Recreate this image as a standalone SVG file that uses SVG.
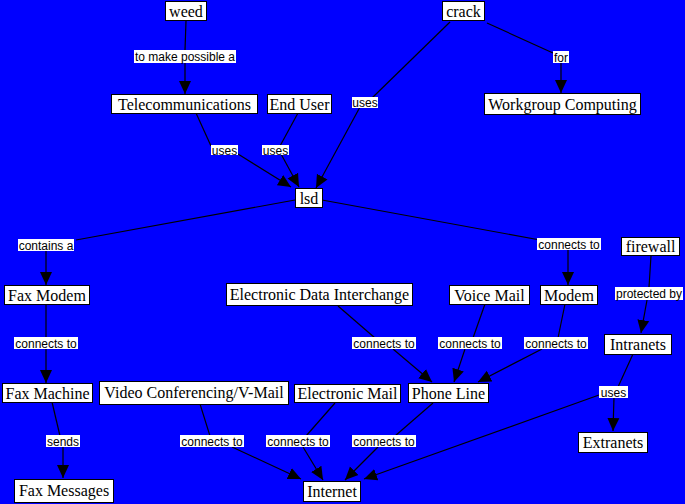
<svg xmlns="http://www.w3.org/2000/svg" width="685" height="504" viewBox="0 0 685 504">
<style>
.n rect{fill:#fff;stroke:#000;stroke-width:1}
.n text{font-family:"Liberation Serif","Times New Roman",serif;font-size:16px;fill:#000;text-anchor:middle}
.c line,.c polyline{stroke:#000;stroke-width:1.2;fill:none}
.a{marker-end:url(#ah)}
.l rect{fill:#fff;stroke:none}
.l text{font-family:"Liberation Sans",Arial,sans-serif;font-size:12px;fill:#000;text-anchor:middle}
</style>
<defs>
<marker id="ah" markerUnits="userSpaceOnUse" markerWidth="14" markerHeight="14" viewBox="0 0 14 14" refX="13" refY="7" orient="auto">
<path d="M0,1 L13,7 L0,13 Z" fill="#000"/>
</marker>
</defs>
<rect width="685" height="504" fill="#0000ff"/>
<g id="connectors" class="c">
<line x1="186" y1="21" x2="185" y2="50"/>
<line class="a" x1="185" y1="63" x2="185" y2="94"/>
<line x1="487" y1="23" x2="553" y2="53"/>
<line class="a" x1="561" y1="62" x2="561" y2="93"/>
<line x1="450" y1="22" x2="372" y2="98"/>
<line class="a" x1="360" y1="107" x2="316" y2="188"/>
<line x1="196" y1="113" x2="211" y2="146"/>
<line class="a" x1="238" y1="154" x2="291" y2="187"/>
<line x1="298" y1="113" x2="280" y2="146"/>
<line class="a" x1="281" y1="154" x2="299" y2="187"/>
<line x1="295" y1="200" x2="76" y2="240"/>
<line class="a" x1="46" y1="251" x2="46" y2="285"/>
<line x1="322" y1="200" x2="540" y2="240"/>
<line class="a" x1="568" y1="250" x2="568" y2="285"/>
<line x1="651" y1="256" x2="649" y2="287"/>
<line class="a" x1="647" y1="300" x2="641" y2="333"/>
<line x1="46" y1="305" x2="46" y2="338"/>
<line class="a" x1="46" y1="349" x2="46" y2="383"/>
<line x1="338" y1="306" x2="375" y2="338"/>
<line class="a" x1="393" y1="349" x2="432" y2="382"/>
<line x1="485" y1="304" x2="473" y2="338"/>
<line class="a" x1="465" y1="349" x2="454" y2="382"/>
<line x1="565" y1="304" x2="558" y2="338"/>
<line class="a" x1="542" y1="349" x2="478" y2="382"/>
<line x1="633" y1="354" x2="618" y2="387"/>
<line class="a" x1="614" y1="397" x2="613" y2="431"/>
<line class="a" x1="599" y1="395" x2="364" y2="479"/>
<line x1="52" y1="402" x2="60" y2="436"/>
<line class="a" x1="63" y1="447" x2="63" y2="478"/>
<line x1="200" y1="404" x2="210" y2="436"/>
<line class="a" x1="232" y1="447" x2="301" y2="479"/>
<line x1="335" y1="403" x2="306" y2="436"/>
<line class="a" x1="303" y1="447" x2="323" y2="480"/>
<line x1="433" y1="403" x2="395" y2="436"/>
<line class="a" x1="378" y1="447" x2="345" y2="480"/>
<g class="l">
<rect x="134" y="50" width="102" height="13"/><text x="185" y="61">to make possible a</text>
<rect x="553" y="51" width="16" height="12"/><text x="561" y="61.5">for</text>
<rect x="352" y="97" width="26" height="11"/><text x="365" y="107">uses</text>
<rect x="211" y="145" width="27" height="10"/><text x="224.5" y="154.5">uses</text>
<rect x="262" y="145" width="27" height="10"/><text x="275.5" y="154.5">uses</text>
<rect x="18" y="239" width="56" height="12"/><text x="46" y="249.5">contains a</text>
<rect x="537" y="238" width="64" height="12"/><text x="569" y="248.5">connects to</text>
<rect x="615" y="287" width="68" height="13"/><text x="649" y="298">protected by</text>
<rect x="14" y="337" width="64" height="12"/><text x="46" y="347.5">connects to</text>
<rect x="352" y="337" width="64" height="12"/><text x="384" y="347.5">connects to</text>
<rect x="438" y="337" width="64" height="12"/><text x="470" y="347.5">connects to</text>
<rect x="524" y="337" width="64" height="12"/><text x="556" y="347.5">connects to</text>
<rect x="599" y="386" width="29" height="12"/><text x="613.5" y="396.5">uses</text>
<rect x="46" y="435" width="34" height="12"/><text x="63" y="445.5">sends</text>
<rect x="180" y="435" width="64" height="12"/><text x="212" y="445.5">connects to</text>
<rect x="266" y="435" width="64" height="12"/><text x="298" y="445.5">connects to</text>
<rect x="352" y="435" width="64" height="12"/><text x="384" y="445.5">connects to</text>
</g>
</g>
<g id="weed" class="n"><rect x="165.5" y="1.5" width="41" height="19"/><text x="186" y="17">weed</text></g>
<g id="crack" class="n"><rect x="442.5" y="1.5" width="42" height="19"/><text x="463.5" y="17">crack</text></g>
<g id="telecommunications" class="n"><rect x="111.5" y="94.5" width="146" height="19"/><text x="184.5" y="110">Telecommunications</text></g>
<g id="end-user" class="n"><rect x="267.5" y="94.5" width="64" height="19"/><text x="299.5" y="110">End User</text></g>
<g id="workgroup-computing" class="n"><rect x="484.5" y="93.5" width="156" height="21"/><text x="562.5" y="110">Workgroup Computing</text></g>
<g id="lsd" class="n"><rect x="295.5" y="188.5" width="27" height="19"/><text x="309" y="204">lsd</text></g>
<g id="fax-modem" class="n"><rect x="4.5" y="285.5" width="85" height="19"/><text x="47" y="301">Fax Modem</text></g>
<g id="edi" class="n"><rect x="226.5" y="283.5" width="186" height="22"/><text x="319.5" y="300">Electronic Data Interchange</text></g>
<g id="voice-mail" class="n"><rect x="449.5" y="285.5" width="80" height="19"/><text x="489.5" y="301">Voice Mail</text></g>
<g id="modem" class="n"><rect x="540.5" y="285.5" width="57" height="19"/><text x="569" y="301">Modem</text></g>
<g id="firewall" class="n"><rect x="621.5" y="237.5" width="58" height="18"/><text x="650.5" y="252">firewall</text></g>
<g id="intranets" class="n"><rect x="604.5" y="334.5" width="67" height="20"/><text x="638" y="350">Intranets</text></g>
<g id="extranets" class="n"><rect x="578.5" y="432.5" width="69" height="20"/><text x="613" y="448">Extranets</text></g>
<g id="fax-machine" class="n"><rect x="2.5" y="383.5" width="90" height="19"/><text x="47.5" y="399">Fax Machine</text></g>
<g id="video-conferencing" class="n"><rect x="99.5" y="381.5" width="189" height="23"/><text x="194" y="398">Video Conferencing/V-Mail</text></g>
<g id="electronic-mail" class="n"><rect x="294.5" y="384.5" width="106" height="18"/><text x="347.5" y="399">Electronic Mail</text></g>
<g id="phone-line" class="n"><rect x="408.5" y="383.5" width="80" height="19"/><text x="448.5" y="399">Phone Line</text></g>
<g id="fax-messages" class="n"><rect x="14.5" y="479.5" width="99" height="23"/><text x="64" y="496">Fax Messages</text></g>
<g id="internet" class="n"><rect x="303.5" y="481.5" width="57" height="20"/><text x="332" y="497">Internet</text></g>
</svg>
